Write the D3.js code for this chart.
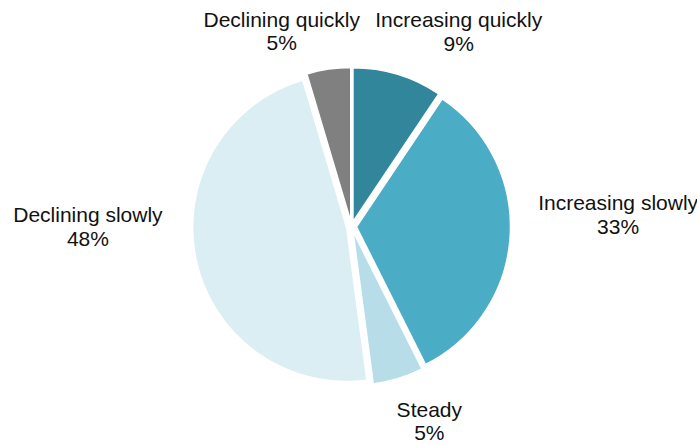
<!DOCTYPE html>
<html>
<head>
<meta charset="utf-8">
<script src="https://cdn.jsdelivr.net/npm/d3@7"></script>
<style>
  html, body { margin: 0; padding: 0; background: #fff; }
  svg { display: block; }
  text { font-family: "Liberation Sans", Arial, sans-serif; font-size: 21px; fill: #111; }
</style>
</head>
<body>
<svg id="chart" width="697" height="445"></svg>
<script>
// ---- data ----
const categories = ["Increasing quickly", "Increasing slowly", "Steady", "Declining slowly", "Declining quickly"];
const values = [9.4, 33.2, 5.3, 47.5, 4.6];
const colors = ["#31869b", "#4bacc6", "#b7dee8", "#daeef3", "#808080"];

// ---- layout ----
const W = 697, H = 445;
const cx = 351.5, cy = 226.5, R = 154, explode = 5, labelR = 200;
// small label nudges (dx, dy) relative to the mid-angle anchor
const labelNudge = [[49, -8], [67, -29], [19, -1], [-68, -46], [-41, -2]];

const svg = d3.select("#chart");
const data = categories.map((c, i) => ({ cat: c, value: values[i], color: colors[i], i }));
const total = d3.sum(values);

const pie = d3.pie().value(d => d.value).sort(null);
const arcs = pie(data);
const arc = d3.arc().innerRadius(0).outerRadius(R);
const pct = d3.format(".0%");

const g = svg.append("g").attr("transform", `translate(${cx},${cy})`);

g.selectAll("path.slice").data(arcs).join("path")
  .attr("class", "slice")
  .attr("d", arc)
  .attr("fill", d => d.data.color)
  .attr("stroke", "#fff")
  .attr("stroke-width", 1.5)
  .attr("stroke-linejoin", "round")
  .attr("transform", d => {
    const m = (d.startAngle + d.endAngle) / 2;
    return `translate(${explode * Math.sin(m)},${-explode * Math.cos(m)})`;
  });

const labels = g.selectAll("g.lbl").data(arcs).join("g")
  .attr("class", "lbl")
  .attr("transform", d => {
    const m = (d.startAngle + d.endAngle) / 2;
    const n = labelNudge[d.data.i];
    return `translate(${labelR * Math.sin(m) + n[0]},${-labelR * Math.cos(m) + n[1]})`;
  });

labels.append("text").attr("text-anchor", "middle").attr("y", 0).text(d => d.data.cat);
labels.append("text").attr("text-anchor", "middle").attr("y", 23.5)
  .text(d => pct(Math.round(d.data.value / total * 100) / 100));
</script>
</body>
</html>
